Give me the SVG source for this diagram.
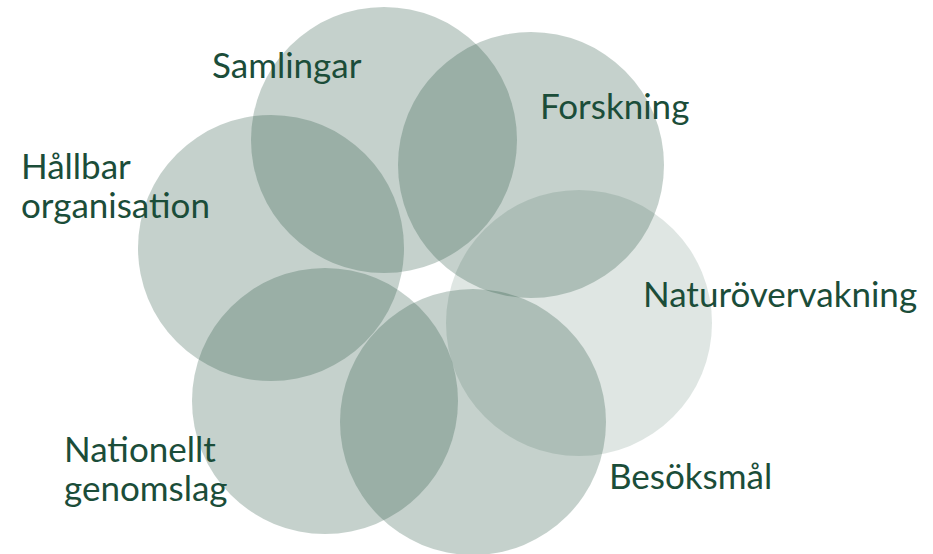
<svg xmlns="http://www.w3.org/2000/svg" width="933" height="554" viewBox="0 0 933 554">
<style>
.c{fill:#1e4d3a;fill-opacity:0.26}
.c.light{fill-opacity:0.14}
text{font-family:Lato,"Liberation Sans",sans-serif;font-size:35px;fill:#1b4d39}
</style>
<rect width="933" height="554" fill="#ffffff"/>
<g id="samlingar"><circle class="c" cx="384" cy="140" r="133"/><text x="212" y="78">Samlingar</text></g>
<g id="forskning"><circle class="c" cx="531" cy="165" r="133"/><text x="540" y="119">Forskning</text></g>
<g id="naturovervakning"><circle class="c light" cx="579" cy="323" r="133"/><text x="643" y="307">Naturövervakning</text></g>
<g id="besoksmal"><circle class="c" cx="473" cy="422" r="133"/><text x="609" y="489">Besöksmål</text></g>
<g id="nationellt"><circle class="c" cx="325" cy="401" r="133"/><text x="64" y="462">Nationellt</text><text x="64" y="501">genomslag</text></g>
<g id="hallbar"><circle class="c" cx="271" cy="248" r="133"/><text x="21" y="179">Hållbar</text><text x="21" y="218">organisation</text></g>
<g id="connectors"></g>
</svg>
